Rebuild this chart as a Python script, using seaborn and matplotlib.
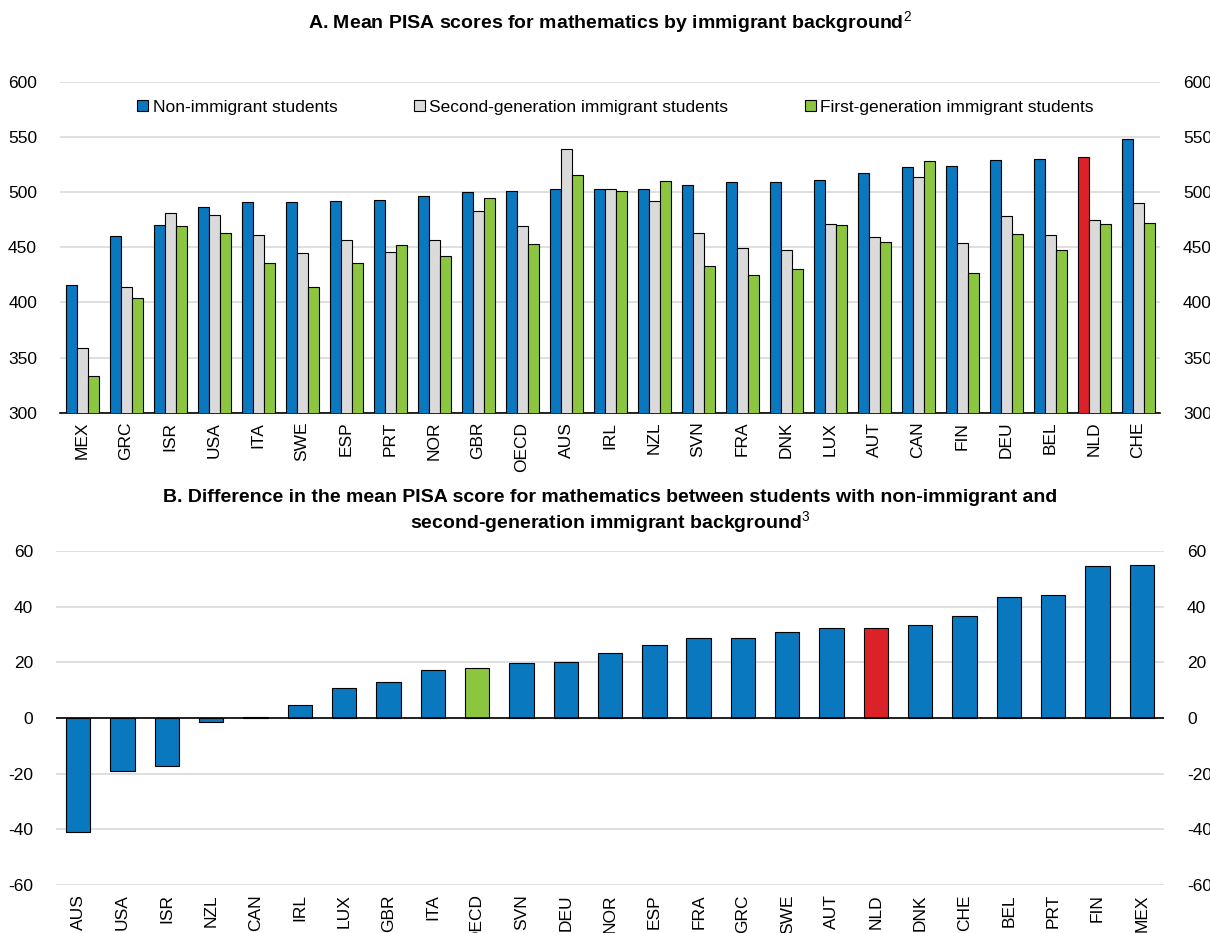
import numpy as np
import pandas as pd
import seaborn as sns
import matplotlib.pyplot as plt
from matplotlib.patches import Patch

# Panel A data
countries_a = ['MEX', 'GRC', 'ISR', 'USA', 'ITA', 'SWE', 'ESP', 'PRT', 'NOR', 'GBR', 'OECD', 'AUS', 'IRL',
               'NZL', 'SVN', 'FRA', 'DNK', 'LUX', 'AUT', 'CAN', 'FIN', 'DEU', 'BEL', 'NLD', 'CHE']
non_immigrant = [416, 460, 470, 487, 491, 491, 492, 493, 497, 500, 501, 503, 503,
                 503, 507, 509, 509, 511, 517, 523, 524, 529, 530, 532, 548]
second_gen = [359, 414, 481, 479, 461, 445, 457, 446, 457, 483, 469, 539, 503,
              492, 463, 449, 448, 471, 459, 514, 454, 478, 461, 475, 490]
first_gen = [333, 404, 469, 463, 436, 414, 436, 452, 442, 495, 453, 516, 501,
             510, 433, 425, 430, 470, 455, 528, 427, 462, 448, 471, 472]
series_names = ['Non-immigrant students', 'Second-generation immigrant students',
                'First-generation immigrant students']

# Panel B data
countries_b = ['AUS', 'USA', 'ISR', 'NZL', 'CAN', 'IRL', 'LUX', 'GBR', 'ITA', 'OECD', 'SVN', 'DEU', 'NOR',
               'ESP', 'FRA', 'GRC', 'SWE', 'AUT', 'NLD', 'DNK', 'CHE', 'BEL', 'PRT', 'FIN', 'MEX']
score_gap = [-40.8, -19.0, -17.3, -1.3, 0.5, 4.8, 10.9, 12.8, 17.2, 18.0, 19.9, 20.3, 23.5,
             26.3, 28.6, 28.9, 30.9, 32.3, 32.3, 33.5, 36.8, 43.6, 44.1, 54.5, 55.0]

blue = '#0a78be'
grey = '#dadada'
green = '#8cc63f'
red = '#dc2229'

sns.set_style('white')
plt.rcParams['font.family'] = ['Liberation Sans', 'DejaVu Sans']
plt.rcParams['mathtext.fontset'] = 'custom'
plt.rcParams['mathtext.rm'] = 'Liberation Sans'
plt.rcParams['axes.unicode_minus'] = False
plt.rcParams['text.color'] = 'black'
plt.rcParams['xtick.color'] = 'black'
plt.rcParams['ytick.color'] = 'black'

fig = plt.figure(figsize=(12.1, 9.33), dpi=100)
ax1 = fig.add_axes([0.0496, 0.5577, 0.9091, 0.3544])
ax2 = fig.add_axes([0.0463, 0.0514, 0.9157, 0.3580])

# ---- Panel A ----
df_a = pd.DataFrame({'country': countries_a * 3,
                     'score': non_immigrant + second_gen + first_gen,
                     'group': [series_names[0]] * 25 + [series_names[1]] * 25 + [series_names[2]] * 25})
sns.barplot(data=df_a, x='country', y='score', hue='group', hue_order=series_names,
            palette=[blue, grey, green], width=0.75, edgecolor='black', linewidth=0.8,
            saturation=1, ax=ax1, legend=False, zorder=3)
# highlight the Netherlands
ax1.containers[0][countries_a.index('NLD')].set_facecolor(red)

ax1.set_ylim(300, 600)
ax1.set_yticks(range(300, 601, 50))
ax1.set_xlim(-0.5, len(countries_a) - 0.5)
ax1.grid(axis='y', color='#d9d9d9', linewidth=1.2, zorder=0)
ax1.set_axisbelow(True)
ax1.set_xlabel('')
ax1.set_ylabel('')
for s in ['top', 'left', 'right']:
    ax1.spines[s].set_visible(False)
ax1.spines['bottom'].set_color('black')
ax1.spines['bottom'].set_linewidth(1.2)
ax1.tick_params(axis='y', labelright=True, left=False, right=False, labelsize=12.5, pad=13)
ax1.tick_params(axis='x', bottom=False, labelsize=12.5, pad=3, labelrotation=90)
ax1.set_title(r'A. Mean PISA scores for mathematics by immigrant background$^{2}$',
              fontsize=14, fontweight='bold', pad=38)

handles = [Patch(facecolor=c, edgecolor='black', linewidth=0.8) for c in [blue, grey, green]]
ax1.legend(handles, series_names, loc='center', bbox_to_anchor=(0.505, 0.924), ncol=3,
           frameon=False, fontsize=12.5, handlelength=0.65, handleheight=0.65,
           handletextpad=0.25, columnspacing=4.4, borderaxespad=0)

# ---- Panel B ----
bar_colors = [red if c == 'NLD' else green if c == 'OECD' else blue for c in countries_b]
sns.barplot(x=countries_b, y=score_gap, hue=countries_b, palette=bar_colors, legend=False,
            width=0.55, edgecolor='black', linewidth=0.8, saturation=1, ax=ax2, zorder=3)
ax2.set_ylim(-60, 60)
ax2.set_yticks(range(-60, 61, 20))
ax2.set_xlim(-0.5, len(countries_b) - 0.5)
ax2.grid(axis='y', color='#d9d9d9', linewidth=1.2, zorder=0)
ax2.set_axisbelow(True)
ax2.axhline(0, color='black', linewidth=1.2, zorder=4)
for s in ['top', 'left', 'right', 'bottom']:
    ax2.spines[s].set_visible(False)
ax2.tick_params(axis='y', labelright=True, left=False, right=False, labelsize=12.5, pad=13)
ax2.tick_params(axis='x', bottom=False, labelsize=12.5, pad=3, labelrotation=90)
ax2.set_title('B. Difference in the mean PISA score for mathematics between students with non-immigrant and\n'
              r'second-generation immigrant background$^{3}$',
              fontsize=14, fontweight='bold', pad=16, linespacing=1.15)

fig.savefig('out.png', dpi=100)
